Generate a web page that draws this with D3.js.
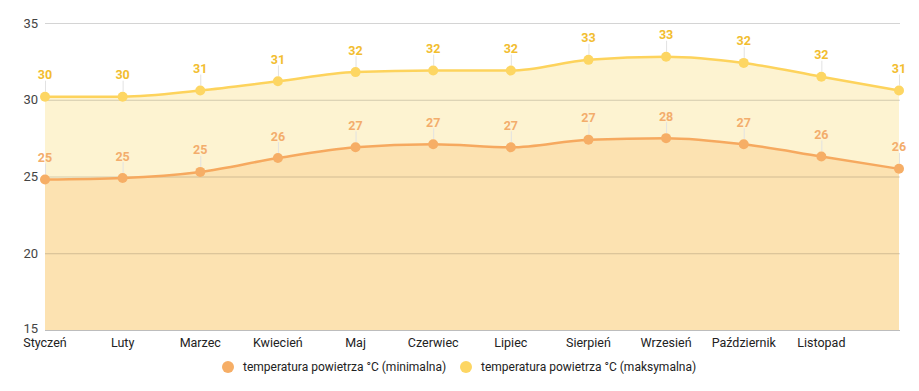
<!DOCTYPE html>
<html><head><meta charset="utf-8">
<script src="https://cdn.jsdelivr.net/npm/d3@7"></script>
<style>body{margin:0;background:#fff;}svg{display:block;font-family:Roboto,Arial,sans-serif;}</style>
</head><body><svg id="c" width="919" height="391"></svg>
<script>
const categories = ["Styczeń","Luty","Marzec","Kwiecień","Maj","Czerwiec","Lipiec","Sierpień","Wrzesień","Październik","Listopad","Grudzień"];
const minTemp = [24.8,24.9,25.3,26.2,26.9,27.1,26.9,27.4,27.5,27.1,26.3,25.5];
const maxTemp = [30.2,30.2,30.6,31.2,31.8,31.9,31.9,32.6,32.8,32.4,31.5,30.6];
const yTicks = [15,20,25,30,35];
const seriesNames = ["temperatura powietrza °C (minimalna)","temperatura powietrza °C (maksymalna)"];

const svg = d3.select("#c");
const x = d3.scalePoint().domain(categories).range([45, 899]);
const y = d3.scaleLinear().domain([15,35]).range([330, 23]);

const colMax = {line:"#fdd35c", dot:"#fdd663", fill:"#fdf3d1", label:"#f2bd2f"};
const colMin = {line:"#f6a95f", dot:"#f6ae66", fill:"#fce2b1", label:"#f3ad6c"};

const area = d3.area().x((d,i)=>x(categories[i])).y0(y(15)).y1(d=>y(d)).curve(d3.curveMonotoneX);
const line = d3.line().x((d,i)=>x(categories[i])).y(d=>y(d)).curve(d3.curveMonotoneX);

svg.append("path").attr("d", area(maxTemp)).attr("fill", colMax.fill);
svg.append("path").attr("d", area(minTemp)).attr("fill", colMin.fill);

// grid
svg.append("g").selectAll("line").data(yTicks).join("line")
  .attr("x1",45).attr("x2",900).attr("y1",d=>y(d)+0.5).attr("y2",d=>y(d)+0.5)
  .attr("stroke", d=> d===15 ? "#bdbdbd" : "rgba(0,0,0,0.17)").attr("stroke-width",1);

svg.append("path").attr("d", line(maxTemp)).attr("fill","none").attr("stroke",colMax.line).attr("stroke-width",2.5);
svg.append("path").attr("d", line(minTemp)).attr("fill","none").attr("stroke",colMin.line).attr("stroke-width",2.5);

function labels(data, col){
  const g = svg.append("g");
  g.selectAll("line").data(data).join("line")
    .attr("x1",(d,i)=>x(categories[i])+0.5).attr("x2",(d,i)=>x(categories[i])+0.5)
    .attr("y1",d=>y(d)-5).attr("y2",d=>y(d)-16)
    .attr("stroke","#e2e2e2").attr("stroke-width",1);
  g.selectAll("circle").data(data).join("circle")
    .attr("cx",(d,i)=>x(categories[i])).attr("cy",d=>y(d)).attr("r",5).attr("fill",col.dot);
  g.selectAll("text").data(data).join("text")
    .attr("x",(d,i)=>x(categories[i])).attr("y",d=>y(d)-22)
    .attr("text-anchor","middle").attr("dominant-baseline","central")
    .attr("font-size",12.5).attr("font-weight","bold").attr("fill",col.label)
    .text(d=>Math.round(d));
}
labels(maxTemp, colMax);
labels(minTemp, colMin);

// y axis labels
svg.append("g").selectAll("text").data(yTicks).join("text")
  .attr("x",38).attr("y",d=>y(d) - (d===15 ? 2 : 0)).attr("text-anchor","end").attr("dominant-baseline","central")
  .attr("font-size",13).attr("fill","#444").text(d=>d);

// x axis labels
svg.append("g").selectAll("text").data(categories).join("text")
  .attr("x",d=>x(d)).attr("y",347).attr("text-anchor","middle")
  .attr("font-size",12.5).attr("fill","#222").text((d,i)=> i===categories.length-1 ? "" : d);

// legend
const leg = [{name:seriesNames[0], c:colMin.dot, x:228},{name:seriesNames[1], c:colMax.dot, x:466}];
const lg = svg.append("g");
lg.selectAll("circle").data(leg).join("circle").attr("cx",d=>d.x).attr("cy",367).attr("r",6).attr("fill",d=>d.c);
lg.selectAll("text").data(leg).join("text").attr("x",d=>d.x+15).attr("y",367)
  .attr("dominant-baseline","central").attr("font-size",12).attr("fill","#222").text(d=>d.name);
</script></body></html>
